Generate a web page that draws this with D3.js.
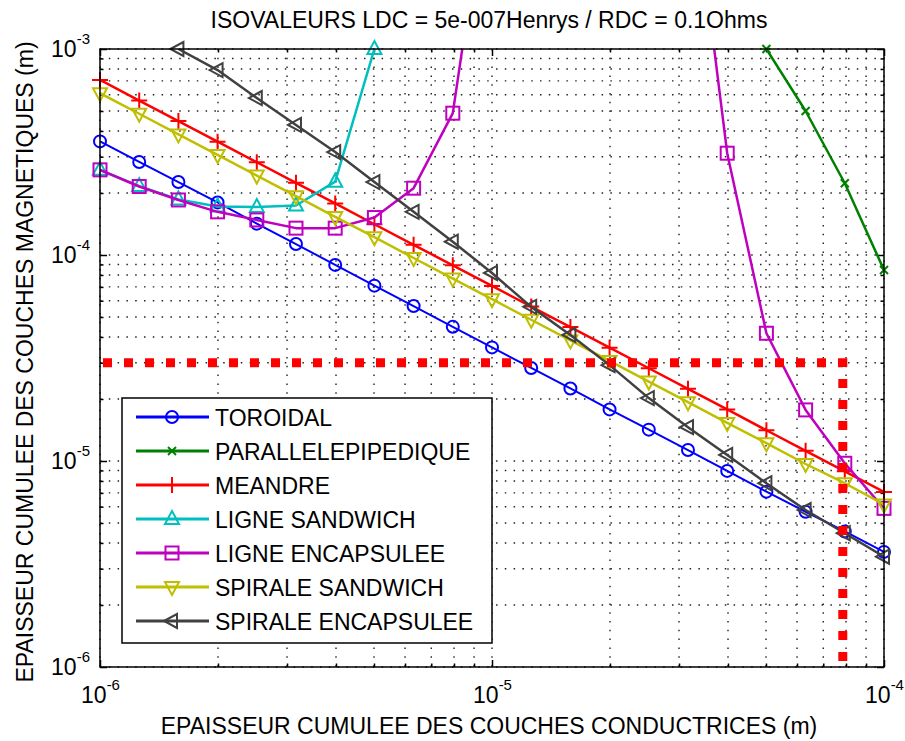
<!DOCTYPE html>
<html>
<head>
<meta charset="utf-8">
<script src="https://cdn.jsdelivr.net/npm/d3@7"></script>
<style>
  body { margin: 0; background: #fff; }
  text { font-family: "Liberation Sans", Arial, sans-serif; fill: #000; }
</style>
</head>
<body>
<div id="chart"></div>
<script>
// x values (cumulated conductor thickness, m) : 10 points per decade
const thickness = [1e-6, 1.259e-6, 1.585e-6, 1.995e-6, 2.512e-6, 3.162e-6, 3.981e-6, 5.012e-6, 6.310e-6, 7.943e-6,
  1e-5, 1.259e-5, 1.585e-5, 1.995e-5, 2.512e-5, 3.162e-5, 3.981e-5, 5.012e-5, 6.310e-5, 7.943e-5, 1e-4]

// y values (cumulated magnetic thickness, m), null = no point
const toroidal = [3.56e-4, 2.83e-4, 2.26e-4, 1.80e-4, 1.42e-4, 1.13e-4, 8.95e-5, 7.1e-5, 5.65e-5, 4.48e-5,
  3.56e-5, 2.83e-5, 2.25e-5, 1.78e-5, 1.42e-5, 1.13e-5, 8.95e-6, 7.1e-6, 5.67e-6, 4.55e-6, 3.62e-6]
const parallelepipedique = [null, null, null, null, null, null, null, null, null, null,
  null, null, null, null, null, null, null, 1.0e-3, 5.0e-4, 2.23e-4, 8.45e-5]
const meandre = [7.08e-4, 5.62e-4, 4.47e-4, 3.55e-4, 2.82e-4, 2.24e-4, 1.78e-4, 1.41e-4, 1.12e-4, 8.91e-5,
  7.08e-5, 5.62e-5, 4.47e-5, 3.55e-5, 2.82e-5, 2.24e-5, 1.78e-5, 1.41e-5, 1.12e-5, 8.91e-6, 7.08e-6]
const ligneSandwich = [2.59e-4, 2.16e-4, 1.86e-4, 1.72e-4, 1.71e-4, 1.74e-4, 2.27e-4, 1.0e-3, null, null,
  null, null, null, null, null, null, null, null, null, null, null]
const ligneEncapsulee = [2.59e-4, 2.15e-4, 1.85e-4, 1.62e-4, 1.48e-4, 1.35e-4, 1.35e-4, 1.52e-4, 2.11e-4, 4.88e-4,
  9.5e-3, null, null, null, null, 1.05e-2, 3.12e-4, 4.17e-5, 1.77e-5, 9.75e-6, 5.89e-6]
const spiraleSandwich = [6.1e-4, 4.85e-4, 3.85e-4, 3.06e-4, 2.43e-4, 1.93e-4, 1.53e-4, 1.22e-4, 9.67e-5, 7.68e-5,
  6.1e-5, 4.85e-5, 3.85e-5, 3.06e-5, 2.43e-5, 1.93e-5, 1.53e-5, 1.22e-5, 9.67e-6, 7.8e-6, 6.15e-6]
const spiraleEncapsulee = [null, null, 1.0e-3, 7.9e-4, 5.78e-4, 4.28e-4, 3.16e-4, 2.26e-4, 1.62e-4, 1.16e-4,
  8.18e-5, 5.6e-5, 4.09e-5, 2.92e-5, 2.02e-5, 1.46e-5, 1.07e-5, 7.8e-6, 5.78e-6, 4.46e-6, 3.43e-6]

// red dotted reference (operating point)
const refX = [1e-6, 7.85e-5, 7.85e-5]
const refY = [3e-5, 3e-5, 1e-6]

const seriesNames = ["TOROIDAL", "PARALLELEPIPEDIQUE", "MEANDRE", "LIGNE SANDWICH", "LIGNE ENCAPSULEE", "SPIRALE SANDWICH", "SPIRALE ENCAPSULEE"]
const seriesValues = [toroidal, parallelepipedique, meandre, ligneSandwich, ligneEncapsulee, spiraleSandwich, spiraleEncapsulee]
const seriesColors = ["#0000ff", "#008000", "#ff0000", "#00bfbf", "#bf00bf", "#bfbf00", "#404040"]
const seriesMarkers = ["o", "x", "+", "^", "s", "v", "<"]

const xMajor = [1e-6, 1e-5, 1e-4]
const yMajor = [1e-6, 1e-5, 1e-4, 1e-3]

const titleText = "ISOVALEURS LDC = 5e-007Henrys / RDC = 0.1Ohms"
const xLabel = "EPAISSEUR CUMULEE DES COUCHES CONDUCTRICES (m)"
const yLabel = "EPAISSEUR CUMULEE DES COUCHES MAGNETIQUES (m)"

// dimensions
const margin = { top: 49, right: 21, bottom: 74, left: 100 }
const width = 905 - margin.left - margin.right
const height = 741 - margin.top - margin.bottom

const svgRoot = d3.select("#chart").append("svg")
  .attr("width", 905).attr("height", 741)
const svg = svgRoot.append("g")
  .attr("transform", `translate(${margin.left},${margin.top})`)

const x = d3.scaleLog().domain([1e-6, 1e-4]).range([0, width])
const y = d3.scaleLog().domain([1e-6, 1e-3]).range([height, 0])

const isMajor = v => Math.abs(Math.log10(v) - Math.round(Math.log10(v))) < 1e-6
const xMinor = x.ticks().filter(v => !isMajor(v))
const yMinor = y.ticks().filter(v => !isMajor(v))

// grid (dotted, every major and minor tick)
const grid = svg.append("g").attr("stroke", "#222").attr("stroke-width", 1.4).attr("stroke-dasharray", "1.5,7.3")
grid.selectAll(".gx").data(x.ticks()).enter().append("line")
  .attr("x1", d => x(d)).attr("x2", d => x(d)).attr("y1", 0).attr("y2", height)
grid.selectAll(".gy").data(y.ticks()).enter().append("line")
  .attr("y1", d => y(d)).attr("y2", d => y(d)).attr("x1", 0).attr("x2", width)

// axes: inward ticks on all four sides
function styleAxis(g) {
  g.select(".domain").remove()
  g.selectAll("line").attr("stroke", "#000").attr("stroke-width", 1.5)
}
function supLabels(g) {
  g.selectAll("text").each(function(d) {
    const t = d3.select(this)
    t.text("")
    t.append("tspan").text("10")
    t.append("tspan").attr("dy", -13).attr("font-size", 15).text(Math.round(Math.log10(d)))
  })
  g.selectAll("text").attr("font-size", 23).attr("font-family", null).attr("fill", "#000")
}

svg.append("g").attr("transform", `translate(0,${height})`)
  .call(d3.axisBottom(x).tickValues(xMinor).tickSize(-3.5).tickFormat(""))
  .call(styleAxis)
svg.append("g").attr("transform", `translate(0,${height})`)
  .call(d3.axisBottom(x).tickValues(xMajor).tickSize(-7).tickPadding(20))
  .call(styleAxis).call(supLabels)
svg.append("g")
  .call(d3.axisTop(x).tickValues(xMinor).tickSize(-3.5).tickFormat(""))
  .call(styleAxis)
svg.append("g")
  .call(d3.axisTop(x).tickValues(xMajor).tickSize(-7).tickFormat(""))
  .call(styleAxis)

svg.append("g")
  .call(d3.axisLeft(y).tickValues(yMinor).tickSize(-3.5).tickFormat(""))
  .call(styleAxis)
svg.append("g")
  .call(d3.axisLeft(y).tickValues(yMajor).tickSize(-7).tickPadding(10))
  .call(styleAxis).call(supLabels)
svg.append("g").attr("transform", `translate(${width},0)`)
  .call(d3.axisRight(y).tickValues(yMinor).tickSize(-3.5).tickFormat(""))
  .call(styleAxis)
svg.append("g").attr("transform", `translate(${width},0)`)
  .call(d3.axisRight(y).tickValues(yMajor).tickSize(-7).tickFormat(""))
  .call(styleAxis)

// clip for the lines
svg.append("clipPath").attr("id", "plotClip")
  .append("rect").attr("width", width).attr("height", height)

// marker shapes
function drawMarker(g, type, color) {
  const m = g.append("g").attr("fill", "none").attr("stroke", color).attr("stroke-width", 2)
  if (type == "o") m.append("circle").attr("r", 6)
  else if (type == "s") m.append("rect").attr("x", -6.5).attr("y", -6.5).attr("width", 13).attr("height", 13)
  else if (type == "x") m.append("path").attr("d", "M-4,-4L4,4M-4,4L4,-4")
  else if (type == "+") m.append("path").attr("d", "M-8,0H8M0,-8V8")
  else if (type == "^") m.append("path").attr("d", "M0,-8L7,5L-7,5Z")
  else if (type == "v") m.append("path").attr("d", "M0,8L7,-5L-7,-5Z")
  else if (type == "<") m.append("path").attr("d", "M-8,0L5,-7L5,7Z")
  return m
}

const line = d3.line()
  .defined(d => d.v != null)
  .x(d => x(d.t))
  .y(d => y(d.v))

seriesValues.forEach(function(vals, i) {
  const pts = thickness.map((t, k) => ({ t: t, v: vals[k] }))
  svg.append("path")
    .datum(pts)
    .attr("clip-path", "url(#plotClip)")
    .attr("fill", "none")
    .attr("stroke", seriesColors[i])
    .attr("stroke-width", i == 0 ? 2 : 2.5)
    .attr("stroke-linejoin", "round")
    .attr("d", line)
  pts.filter(d => d.v != null && d.v >= 0.99e-6 && d.v <= 1.01e-3).forEach(function(d) {
    drawMarker(svg, seriesMarkers[i], seriesColors[i])
      .attr("transform", `translate(${x(d.t)},${y(d.v)})`)
  })
})

// reference point (red dotted)
svg.append("path")
  .datum(refX.map((t, k) => ({ t: t, v: refY[k] })))
  .attr("fill", "none")
  .attr("stroke", "#ff0000")
  .attr("stroke-width", 9)
  .attr("stroke-dasharray", "9,12")
  .attr("stroke-dashoffset", -3)
  .attr("d", line)

// box
svg.append("rect").attr("width", width).attr("height", height)
  .attr("fill", "none").attr("stroke", "#000").attr("stroke-width", 1.5)

// legend
const legend = svgRoot.append("g").attr("transform", "translate(122,398)")
legend.append("rect").attr("width", 370).attr("height", 245)
  .attr("fill", "#fff").attr("stroke", "#000").attr("stroke-width", 1.5)
seriesNames.forEach(function(name, i) {
  const row = legend.append("g").attr("transform", `translate(0,${19 + i * 34})`)
  row.append("line").attr("x1", 14).attr("x2", 87)
    .attr("stroke", seriesColors[i]).attr("stroke-width", 3)
  drawMarker(row, seriesMarkers[i], seriesColors[i]).attr("transform", "translate(50,0)")
  row.append("text").attr("x", 93).attr("y", 8.5).attr("font-size", 23).text(name)
})

// titles
svgRoot.append("text").attr("x", 489).attr("y", 28).attr("text-anchor", "middle")
  .attr("font-size", 23).text(titleText)
svgRoot.append("text").attr("x", 489).attr("y", 734).attr("text-anchor", "middle")
  .attr("font-size", 23).text(xLabel)
svgRoot.append("text").attr("transform", "translate(33,362) rotate(-90)").attr("text-anchor", "middle")
  .attr("font-size", 23).text(yLabel)
</script>
</body>
</html>
